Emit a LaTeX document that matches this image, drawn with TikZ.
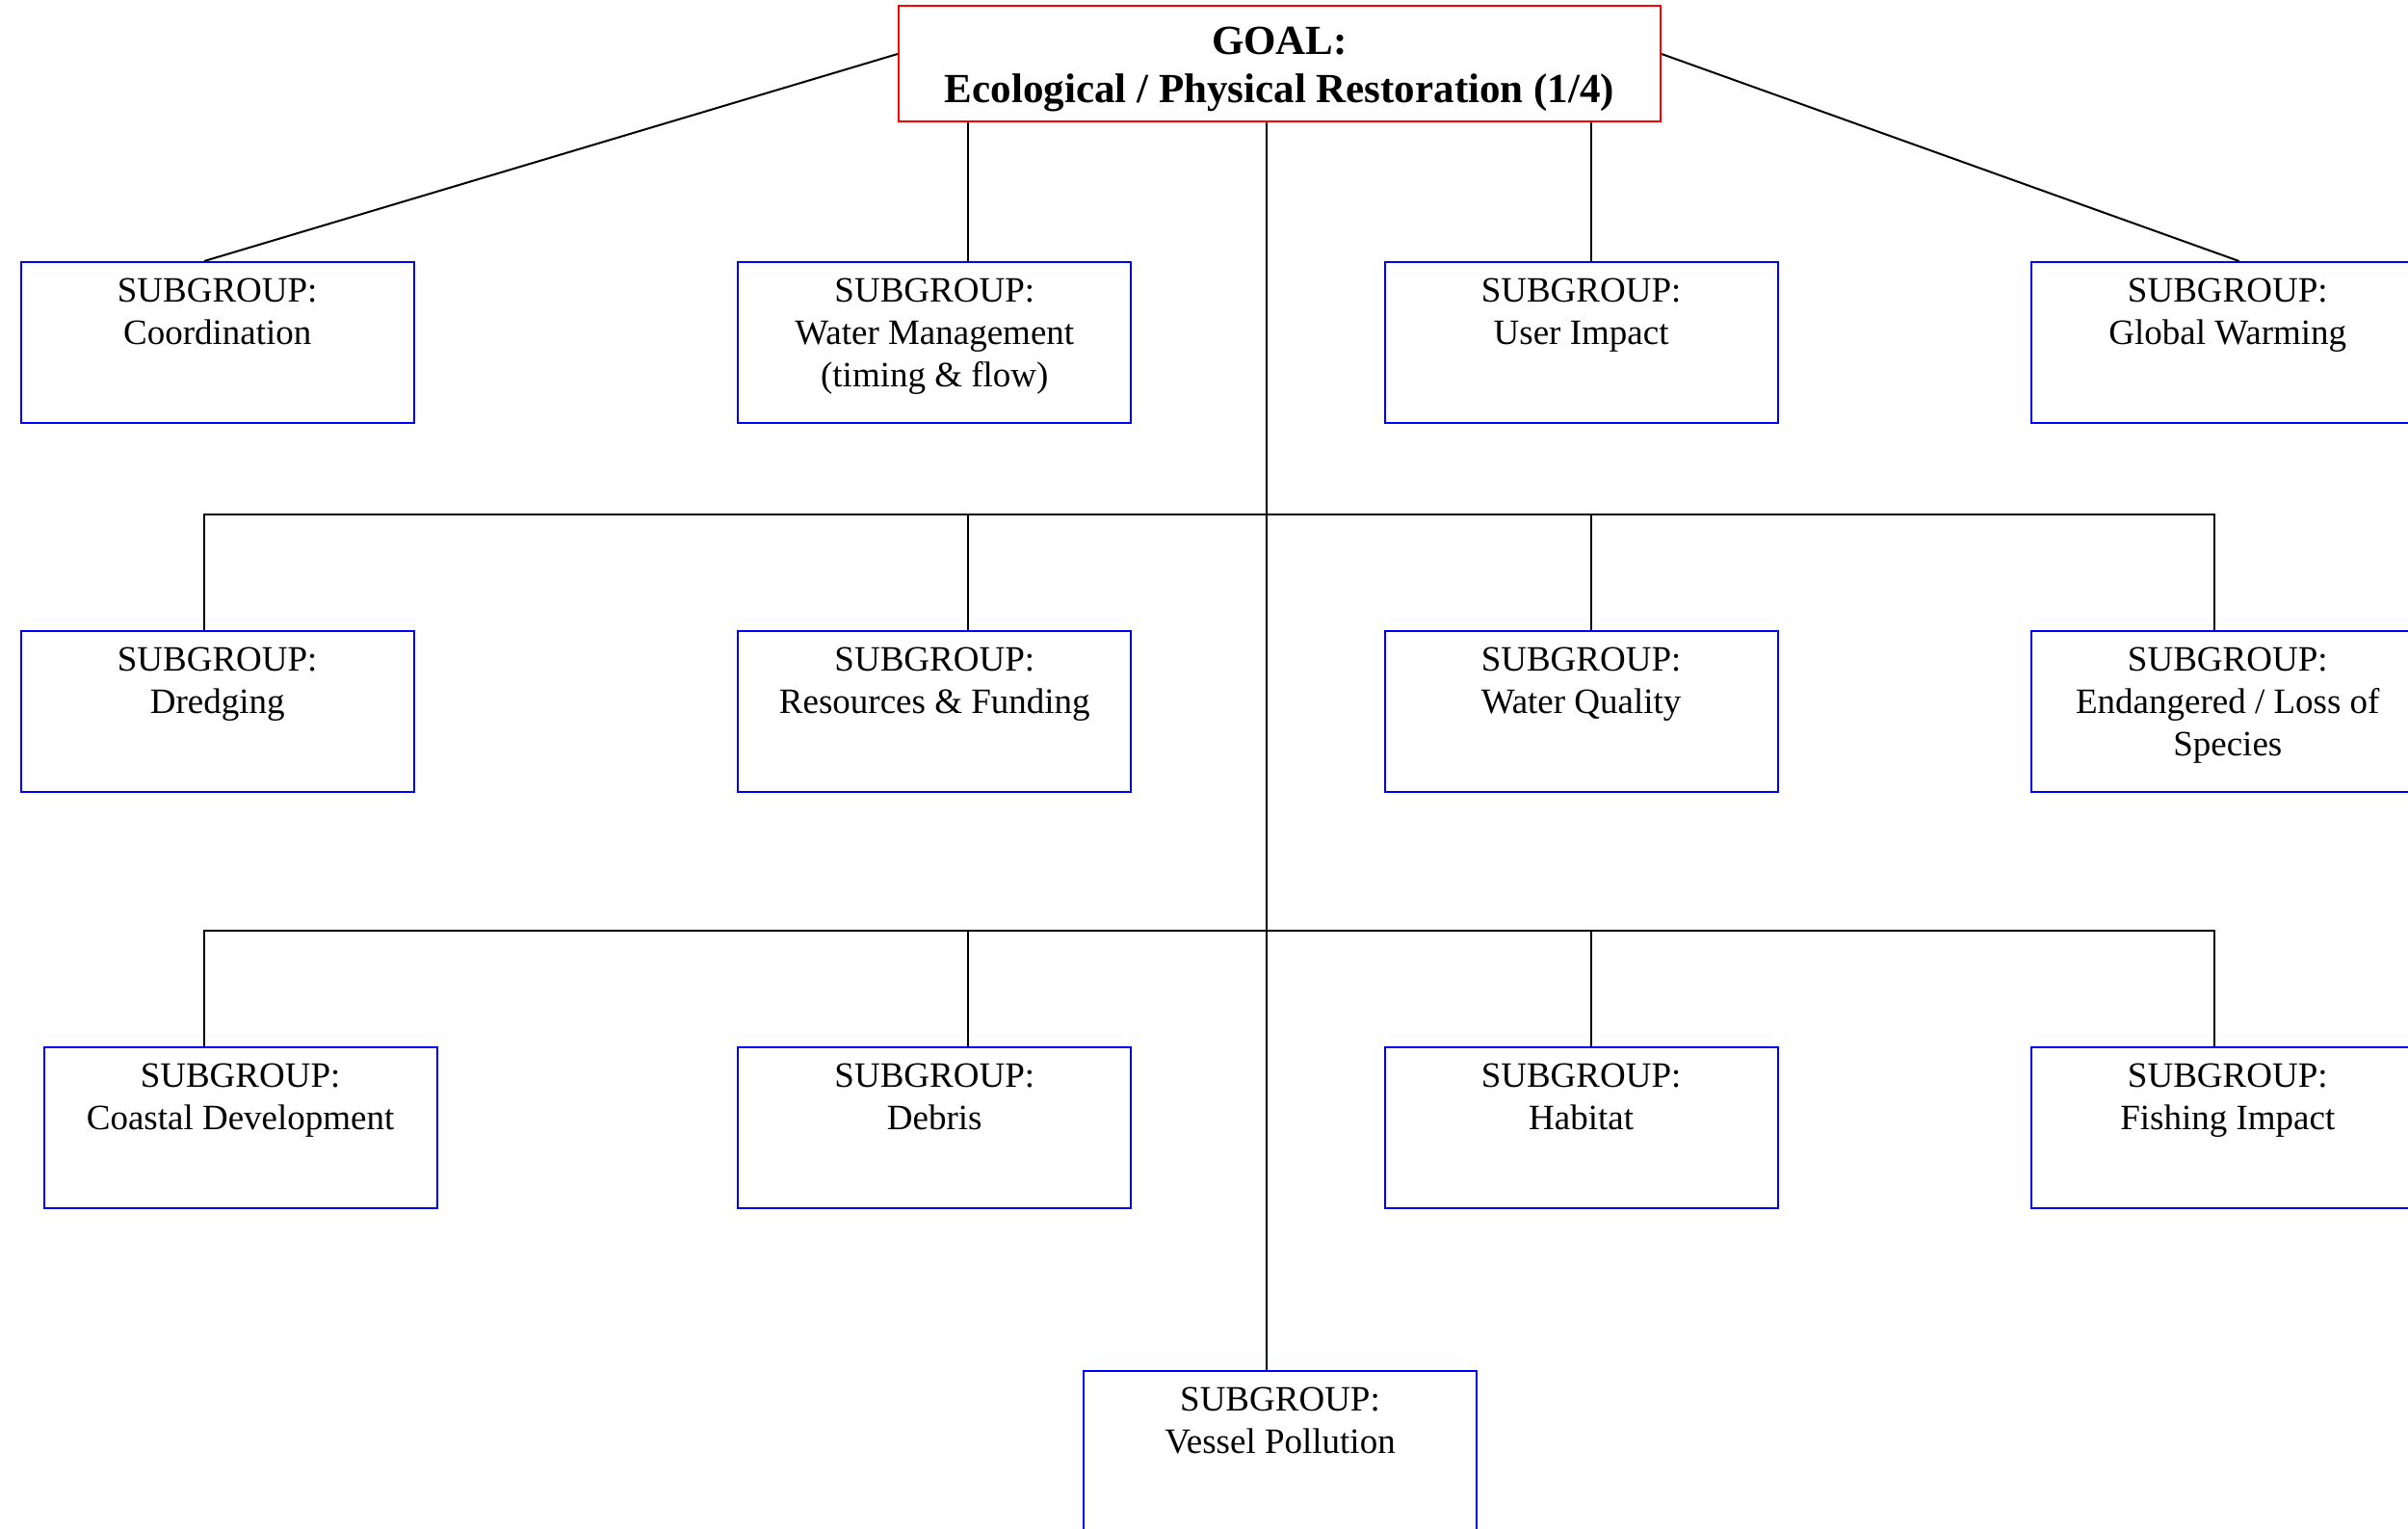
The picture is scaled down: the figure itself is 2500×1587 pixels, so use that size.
\documentclass[tikz,border=0pt]{standalone}
\usepackage{fontspec}
\setmainfont{Liberation Serif}
\begin{document}
\begin{tikzpicture}[x=1pt,y=1pt,
  sbox/.style={draw=blue, line width=2pt, minimum width=408pt, minimum height=167pt, inner sep=0pt, anchor=north west},
  gbox/.style={draw=red, line width=2pt, minimum width=791pt, minimum height=120pt, inner sep=0pt},
  gtext/.style={align=center, anchor=base, inner sep=0pt, font=\fontsize{43}{50}\selectfont\bfseries},
  stext/.style={align=center, anchor=base, inner sep=0pt, font=\fontsize{37}{44}\selectfont},
  conn/.style={draw=black, line width=2pt}]
\useasboundingbox (0,0) rectangle (2500,-1587);
% goal
\node[gbox] (goal) at (1328.5,-66) {};
\node[gtext] (goalT) at ([yshift=-40pt]goal.center) {GOAL:\\Ecological / Physical Restoration (1/4)};
% column x positions of connectors
\coordinate (xA) at (212,0);
\coordinate (xB) at (1004.5,0);
\coordinate (xC) at (1651.8,0);
\coordinate (xD) at (2299.1,0);
\coordinate (xG) at (2324.6,0);
\coordinate (xM) at (1315.4,0);
\coordinate (j1) at (1315.4,-534.1);
\coordinate (j2) at (1315.4,-966.2);
% row 1
\node[sbox] (a1) at (20.7,-271) {};
\node[sbox] (b1) at (765.3,-271) {};
\node[sbox] (c1) at (1436.6,-271) {};
\node[sbox] (d1) at (2107.8,-271) {};
% row 2
\node[sbox] (a2) at (20.7,-653.7) {};
\node[sbox] (b2) at (765.3,-653.7) {};
\node[sbox] (c2) at (1436.6,-653.7) {};
\node[sbox] (d2) at (2107.8,-653.7) {};
% row 3
\node[sbox] (a3) at (44.6,-1085.8) {};
\node[sbox] (b3) at (765.3,-1085.8) {};
\node[sbox] (c3) at (1436.6,-1085.8) {};
\node[sbox] (d3) at (2107.8,-1085.8) {};
% row 4
\node[sbox] (v) at (1124,-1422.2) {};
% texts (base anchor = baseline of last line)
\node[stext] (ta1) at ([yshift=-86.5pt]a1.north) {SUBGROUP:\\Coordination};
\node[stext] (tb1) at ([yshift=-130.5pt]b1.north) {SUBGROUP:\\Water Management\\(timing \& flow)};
\node[stext] (tc1) at ([yshift=-86.5pt]c1.north) {SUBGROUP:\\User Impact};
\node[stext] (td1) at ([yshift=-86.5pt]d1.north) {SUBGROUP:\\Global Warming};
\node[stext] (ta2) at ([yshift=-86.5pt]a2.north) {SUBGROUP:\\Dredging};
\node[stext] (tb2) at ([yshift=-86.5pt]b2.north) {SUBGROUP:\\Resources \& Funding};
\node[stext] (tc2) at ([yshift=-86.5pt]c2.north) {SUBGROUP:\\Water Quality};
\node[stext] (td2) at ([yshift=-130.5pt]d2.north) {SUBGROUP:\\Endangered / Loss of\\Species};
\node[stext] (ta3) at ([yshift=-86.5pt]a3.north) {SUBGROUP:\\Coastal Development};
\node[stext] (tb3) at ([yshift=-86.5pt]b3.north) {SUBGROUP:\\Debris};
\node[stext] (tc3) at ([yshift=-86.5pt]c3.north) {SUBGROUP:\\Habitat};
\node[stext] (td3) at ([yshift=-86.5pt]d3.north) {SUBGROUP:\\Fishing Impact};
\node[stext] (tv) at ([yshift=-86.5pt]v.north) {SUBGROUP:\\Vessel Pollution};
% connectors
\draw[conn] ([yshift=10pt]goal.west) -- (a1.north -| xA);
\draw[conn] ([yshift=10pt]goal.east) -- (d1.north -| xG);
\draw[conn] (goal.south -| xB) -- (b1.north -| xB);
\draw[conn] (goal.south -| xC) -- (c1.north -| xC);
\draw[conn] (goal.south -| xM) -- (v.north -| xM);
% bus 1
\draw[conn] (a2.north -| xA) |- (j1) -| (d2.north -| xD);
\draw[conn] (b2.north -| xB) -- (j1 -| xB);
\draw[conn] (c2.north -| xC) -- (j1 -| xC);
% bus 2
\draw[conn] (a3.north -| xA) |- (j2) -| (d3.north -| xD);
\draw[conn] (b3.north -| xB) -- (j2 -| xB);
\draw[conn] (c3.north -| xC) -- (j2 -| xC);
\end{tikzpicture}
\end{document}
